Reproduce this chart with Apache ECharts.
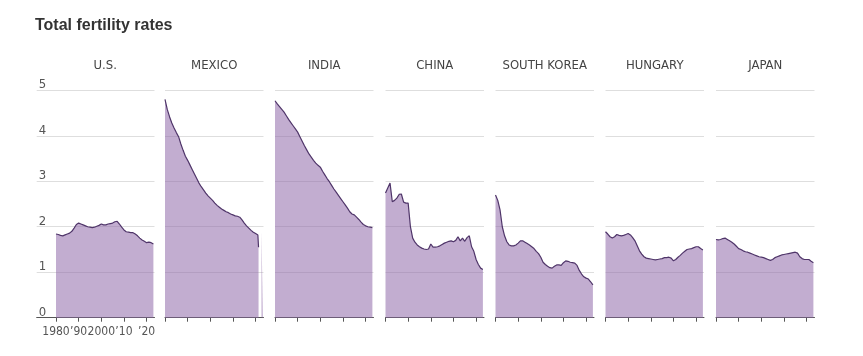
<!DOCTYPE html>
<html>
<head>
<meta charset="utf-8">
<script src="https://cdn.jsdelivr.net/npm/echarts@6/dist/echarts.min.js"></script>
<style>
html,body{margin:0;padding:0;background:#fff;}
#chart{width:863px;height:356px;}
</style>
</head>
<body>
<div id="chart"></div>
<script>
// ---- DATA ----
var chartTitle = 'Total fertility rates';
var countries = ['U.S.', 'MEXICO', 'INDIA', 'CHINA', 'SOUTH KOREA', 'HUNGARY', 'JAPAN'];
var years = [1980,1981,1982,1983,1984,1985,1986,1987,1988,1989,1990,1991,1992,1993,1994,1995,1996,1997,1998,1999,2000,2001,2002,2003,2004,2005,2006,2007,2008,2009,2010,2011,2012,2013,2014,2015,2016,2017,2018,2019,2020,2021,2022,2023];
var yTicks = [0, 1, 2, 3, 4, 5];
var xTicks = [1980, 1990, 2000, 2010, 2020];

var usValues = [1.84,1.83,1.81,1.80,1.82,1.84,1.86,1.90,1.97,2.05,2.08,2.06,2.04,2.02,2.00,1.99,1.98,1.99,2.01,2.03,2.06,2.04,2.04,2.06,2.07,2.08,2.11,2.12,2.06,1.99,1.93,1.89,1.88,1.87,1.87,1.84,1.80,1.75,1.71,1.68,1.65,1.66,1.65,1.62];
var mexicoValues = [4.80,4.58,4.42,4.28,4.17,4.07,3.98,3.82,3.68,3.55,3.46,3.36,3.26,3.16,3.06,2.96,2.88,2.81,2.74,2.68,2.63,2.58,2.52,2.47,2.43,2.39,2.36,2.33,2.31,2.28,2.26,2.24,2.23,2.21,2.15,2.08,2.02,1.97,1.92,1.88,1.85,1.82];
var mexicoEdgeYears = [2021.3];
var mexicoEdgeValues = [1.55];
var mexicoTailYears = [2022.6, 2023.2];
var mexicoTailValues = [1.9, 1.9];
var indiaValues = [4.77,4.70,4.64,4.58,4.52,4.44,4.36,4.29,4.22,4.15,4.08,3.98,3.88,3.78,3.69,3.60,3.53,3.46,3.40,3.35,3.31,3.22,3.14,3.06,2.99,2.91,2.83,2.76,2.69,2.62,2.55,2.48,2.41,2.33,2.28,2.26,2.21,2.16,2.10,2.05,2.02,2.00,1.99,1.98];
var chinaValues = [2.74,2.85,2.96,2.55,2.58,2.63,2.71,2.72,2.54,2.52,2.52,2.00,1.75,1.66,1.60,1.56,1.53,1.51,1.50,1.51,1.62,1.55,1.55,1.56,1.58,1.61,1.64,1.66,1.68,1.69,1.67,1.70,1.78,1.69,1.75,1.68,1.76,1.80,1.56,1.46,1.28,1.17,1.09,1.06];
var koreaValues = [2.70,2.58,2.37,2.00,1.80,1.67,1.60,1.58,1.58,1.60,1.64,1.69,1.69,1.66,1.63,1.60,1.56,1.52,1.46,1.41,1.33,1.22,1.17,1.13,1.10,1.09,1.13,1.16,1.16,1.15,1.21,1.25,1.24,1.22,1.21,1.20,1.15,1.04,0.96,0.90,0.87,0.85,0.79,0.72];
var hungaryValues = [1.89,1.84,1.78,1.75,1.78,1.83,1.81,1.80,1.81,1.83,1.85,1.82,1.76,1.69,1.58,1.47,1.40,1.34,1.31,1.30,1.29,1.28,1.27,1.28,1.29,1.30,1.32,1.32,1.33,1.31,1.25,1.28,1.33,1.37,1.42,1.46,1.50,1.51,1.52,1.54,1.56,1.56,1.52,1.49];
var japanValues = [1.72,1.71,1.72,1.74,1.75,1.72,1.69,1.66,1.62,1.57,1.52,1.50,1.47,1.45,1.44,1.42,1.40,1.38,1.36,1.34,1.33,1.32,1.30,1.28,1.26,1.28,1.32,1.34,1.36,1.38,1.39,1.40,1.41,1.42,1.43,1.44,1.42,1.34,1.30,1.28,1.28,1.28,1.24,1.21];

// ---- BUILD ----
function pairs(xs, vs) {
  var out = [];
  for (var i = 0; i < vs.length; i++) out.push([xs[i], vs[i]]);
  return out;
}
var seriesData = [
  pairs(years, usValues),
  pairs(years, mexicoValues).concat(pairs(mexicoEdgeYears, mexicoEdgeValues)),
  pairs(years, indiaValues),
  pairs(years, chinaValues),
  pairs(years, koreaValues),
  pairs(years, hungaryValues),
  pairs(years, japanValues)
];

var FONT = "'DejaVu Sans Condensed', 'DejaVu Sans', sans-serif";
var FILL = 'rgba(144,106,170,0.55)';
var LINE = '#4f3569';
var panelLeft = [56, 165, 275, 385.5, 495.5, 605.5, 716];
var panelWidth = 98.5;
var pxPerYear = 2.265;
var gridTop = 90.3, gridHeight = 227.4;
var usExtra = 19.3; // gridlines of first panel extend left under y labels

var grids = [], xAxes = [], yAxes = [], series = [], titles = [];
titles.push({
  text: chartTitle, left: 35, top: 18, padding: 0,
  textStyle: {fontFamily: "'Liberation Sans', Arial, sans-serif", fontSize: 16, fontWeight: 'bold', color: '#333'}
});
for (var i = 0; i < countries.length; i++) {
  var first = i === 0;
  var left = first ? panelLeft[i] - usExtra : panelLeft[i];
  var width = first ? panelWidth + usExtra : panelWidth;
  grids.push({left: left, top: gridTop, width: width, height: gridHeight});
  xAxes.push({
    type: 'value', gridIndex: i,
    min: first ? 1980 - usExtra / pxPerYear : 1980,
    max: 1980 + panelWidth / pxPerYear,
    splitLine: {show: false},
    axisLine: {show: true, lineStyle: {color: '#555', width: 1}},
    axisTick: {show: true, length: 4, lineStyle: {color: '#555'}, customValues: xTicks},
    axisLabel: {
      show: first, customValues: xTicks, margin: 8, hideOverlap: false,
      fontFamily: FONT, fontSize: 12, color: '#555',
      formatter: function (v) { return (v === 1980 || v === 2000) ? String(v) : '\u2019' + String(v).slice(2); }
    }
  });
  yAxes.push({
    type: 'value', gridIndex: i, min: 0, max: 5, interval: 1,
    axisLine: {show: false}, axisTick: {show: false},
    splitLine: {show: true, lineStyle: {color: '#dedede', width: 1}},
    axisLabel: {
      show: first, inside: true, margin: 2, verticalAlign: 'bottom', align: 'left',
      fontFamily: FONT, fontSize: 13, color: '#555', padding: [0, 0, -1, 0],
      formatter: function (v) { return yTicks.indexOf(v) >= 0 ? String(v) : ''; }
    }
  });
  series.push({
    type: 'line', xAxisIndex: i, yAxisIndex: i, name: countries[i],
    data: seriesData[i], showSymbol: false, symbol: 'none', silent: true,
    lineStyle: {color: LINE, width: 1.2},
    areaStyle: {color: FILL, opacity: 1},
    animation: false
  });
  titles.push({
    text: countries[i], left: panelLeft[i] + panelWidth / 2, textAlign: 'center', top: 59, padding: 0,
    textStyle: {fontFamily: FONT, fontSize: 13, fontWeight: 'normal', color: '#444'}
  });
}
// Mexico's last thin sliver
series.push({
  type: 'line', xAxisIndex: 1, yAxisIndex: 1, name: 'MEXICO tail',
  data: pairs(mexicoTailYears, mexicoTailValues), showSymbol: false, symbol: 'none', silent: true,
  lineStyle: {width: 0, opacity: 0},
  areaStyle: {color: FILL, opacity: 1},
  animation: false
});

var chart = echarts.init(document.getElementById('chart'), null, {renderer: 'canvas'});
chart.setOption({
  animation: false,
  backgroundColor: '#fff',
  title: titles,
  grid: grids,
  xAxis: xAxes,
  yAxis: yAxes,
  series: series
});
</script>
</body>
</html>
